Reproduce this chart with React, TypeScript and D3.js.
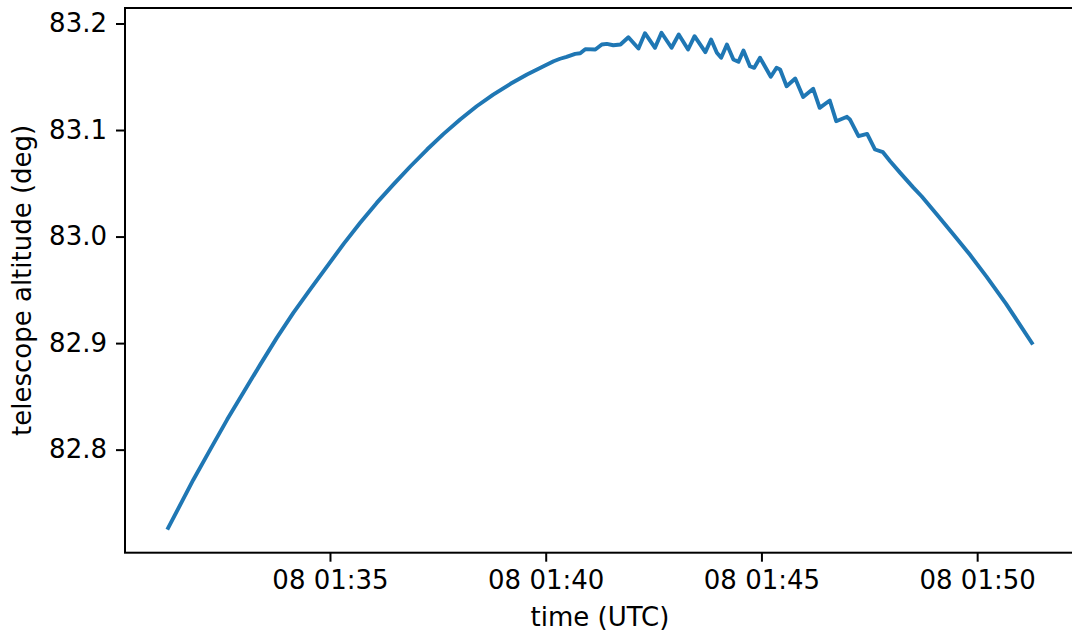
import React, { useEffect, useRef } from 'react';
import * as d3 from 'd3';

// observation day (only the day-of-month shows in the tick labels)
const day = '2021-10-08';

// sample times (UTC) and telescope altitude in degrees
const times = [
  '01:31:15', '01:31:50', '01:32:14', '01:32:37', '01:33:00', '01:33:23', '01:33:46', '01:34:09',
  '01:34:33', '01:34:56', '01:35:19', '01:35:42', '01:36:05', '01:36:28', '01:36:52', '01:37:15',
  '01:37:38', '01:38:01', '01:38:24', '01:38:47', '01:39:11', '01:39:34', '01:39:57', '01:40:11',
  '01:40:20', '01:40:29', '01:40:41', '01:40:48', '01:40:55', '01:41:09', '01:41:18', '01:41:25',
  '01:41:34', '01:41:44', '01:41:55', '01:42:09', '01:42:18', '01:42:32', '01:42:41', '01:42:55',
  '01:43:05', '01:43:18', '01:43:27', '01:43:42', '01:43:50', '01:43:58', '01:44:04', '01:44:12',
  '01:44:21', '01:44:28', '01:44:35', '01:44:44', '01:44:50', '01:44:58', '01:45:13', '01:45:21',
  '01:45:26', '01:45:35', '01:45:47', '01:45:58', '01:46:12', '01:46:21', '01:46:35', '01:46:44',
  '01:46:59', '01:47:03', '01:47:15', '01:47:27', '01:47:38', '01:47:49', '01:47:59', '01:48:13',
  '01:48:31', '01:48:43', '01:49:04', '01:49:27', '01:49:50', '01:50:13', '01:50:40', '01:51:16',
];

const altitude = [
  82.7265, 82.7718, 82.8007, 82.8282, 82.8542, 82.8798, 82.9049, 82.9284,
  82.9509, 82.9721, 82.9931, 83.0129, 83.0316, 83.0488, 83.066, 83.0817,
  83.0964, 83.1099, 83.1223, 83.1333, 83.1434, 83.1521, 83.1599, 83.1646,
  83.1669, 83.1687, 83.1715, 83.1721, 83.1759, 83.1756, 83.1803, 83.1809,
  83.1796, 83.1803, 83.1871, 83.1765, 83.1909, 83.1772, 83.1913, 83.1772,
  83.1897, 83.1756, 83.1881, 83.1731, 83.185, 83.1725, 83.1678, 83.1803,
  83.1662, 83.164, 83.1746, 83.1599, 83.1584, 83.1678, 83.15, 83.1584,
  83.1568, 83.1411, 83.1484, 83.131, 83.1387, 83.1208, 83.1277, 83.1083,
  83.1124, 83.1099, 83.0942, 83.0964, 83.0817, 83.0792, 83.0707, 83.0598,
  83.0462, 83.0376, 83.0207, 83.0019, 82.9829, 82.9624, 82.9371, 82.9002,
];

const xTickTimes = ['01:35:00', '01:40:00', '01:45:00', '01:50:00'];
const yTicks = [82.8, 82.9, 83.0, 83.1, 83.2];

const toDate = (t: string) => new Date(`${day}T${t}Z`);

const App: React.FC = () => {
  const svgRef = useRef<SVGSVGElement | null>(null);

  useEffect(() => {
    if (!svgRef.current) return;
    const svg = d3.select(svgRef.current);
    svg.selectAll('*').remove();

    const width = 1072;
    const height = 635;
    const left = 125;
    const right = 1075; // the right spine falls just outside the image
    const top = 8;
    const bottom = 552.7;
    const font = 'DejaVu Sans, sans-serif';
    const fs = 26;
    const tickLen = 9;

    const data = times.map((t, i) => ({ t: toDate(t), v: altitude[i] }));

    // matplotlib-style 5% margins
    const [t0, t1] = d3.extent(data, (d) => d.t.getTime()) as [number, number];
    const [v0, v1] = d3.extent(data, (d) => d.v) as [number, number];
    const tPad = (t1 - t0) * 0.05;
    const vPad = (v1 - v0) * 0.05;

    const x = d3
      .scaleUtc()
      .domain([new Date(t0 - tPad), new Date(t1 + tPad)])
      .range([left, right]);
    const y = d3
      .scaleLinear()
      .domain([v0 - vPad, v1 + vPad])
      .range([bottom, top]);

    svg.attr('width', width).attr('height', height);
    svg.append('rect').attr('width', width).attr('height', height).attr('fill', '#fff');

    const line = d3
      .line<{ t: Date; v: number }>()
      .x((d) => x(d.t))
      .y((d) => y(d.v));

    svg
      .append('path')
      .datum(data)
      .attr('d', line)
      .attr('fill', 'none')
      .attr('stroke', '#1f77b4')
      .attr('stroke-width', 3.9)
      .attr('stroke-linejoin', 'round')
      .attr('stroke-linecap', 'square');

    const xAxis = d3
      .axisBottom(x)
      .tickValues(xTickTimes.map(toDate))
      .tickFormat((d) => d3.utcFormat('%d %H:%M')(d as Date))
      .tickSize(tickLen)
      .tickSizeOuter(0)
      .tickPadding(9);

    const yAxis = d3
      .axisLeft(y)
      .tickValues(yTicks)
      .tickFormat(d3.format('.1f'))
      .tickSize(tickLen)
      .tickSizeOuter(0)
      .tickPadding(9);

    const gx = svg.append('g').attr('transform', `translate(0,${bottom})`).call(xAxis);
    const gy = svg.append('g').attr('transform', `translate(${left},0)`).call(yAxis);

    [gx, gy].forEach((g) => {
      g.select('.domain').remove();
      g.selectAll('line').attr('stroke', '#000').attr('stroke-width', 2);
      g.selectAll('text')
        .attr('fill', '#000')
        .attr('font-family', font)
        .attr('font-size', fs);
    });
    gx.selectAll('text').attr('dy', '0.71em');

    // spines
    svg
      .append('rect')
      .attr('x', left)
      .attr('y', top)
      .attr('width', right - left)
      .attr('height', bottom - top)
      .attr('fill', 'none')
      .attr('stroke', '#000')
      .attr('stroke-width', 2);

    svg
      .append('text')
      .attr('x', (left + right) / 2)
      .attr('y', 626)
      .attr('text-anchor', 'middle')
      .attr('font-family', font)
      .attr('font-size', fs)
      .text('time (UTC)');

    svg
      .append('text')
      .attr('transform', `translate(31,${(top + bottom) / 2}) rotate(-90)`)
      .attr('text-anchor', 'middle')
      .attr('font-family', font)
      .attr('font-size', fs)
      .text('telescope altitude (deg)');
  }, []);

  return <svg ref={svgRef} style={{ position: 'absolute', left: 0, top: 0 }} />;
};

export default App;
